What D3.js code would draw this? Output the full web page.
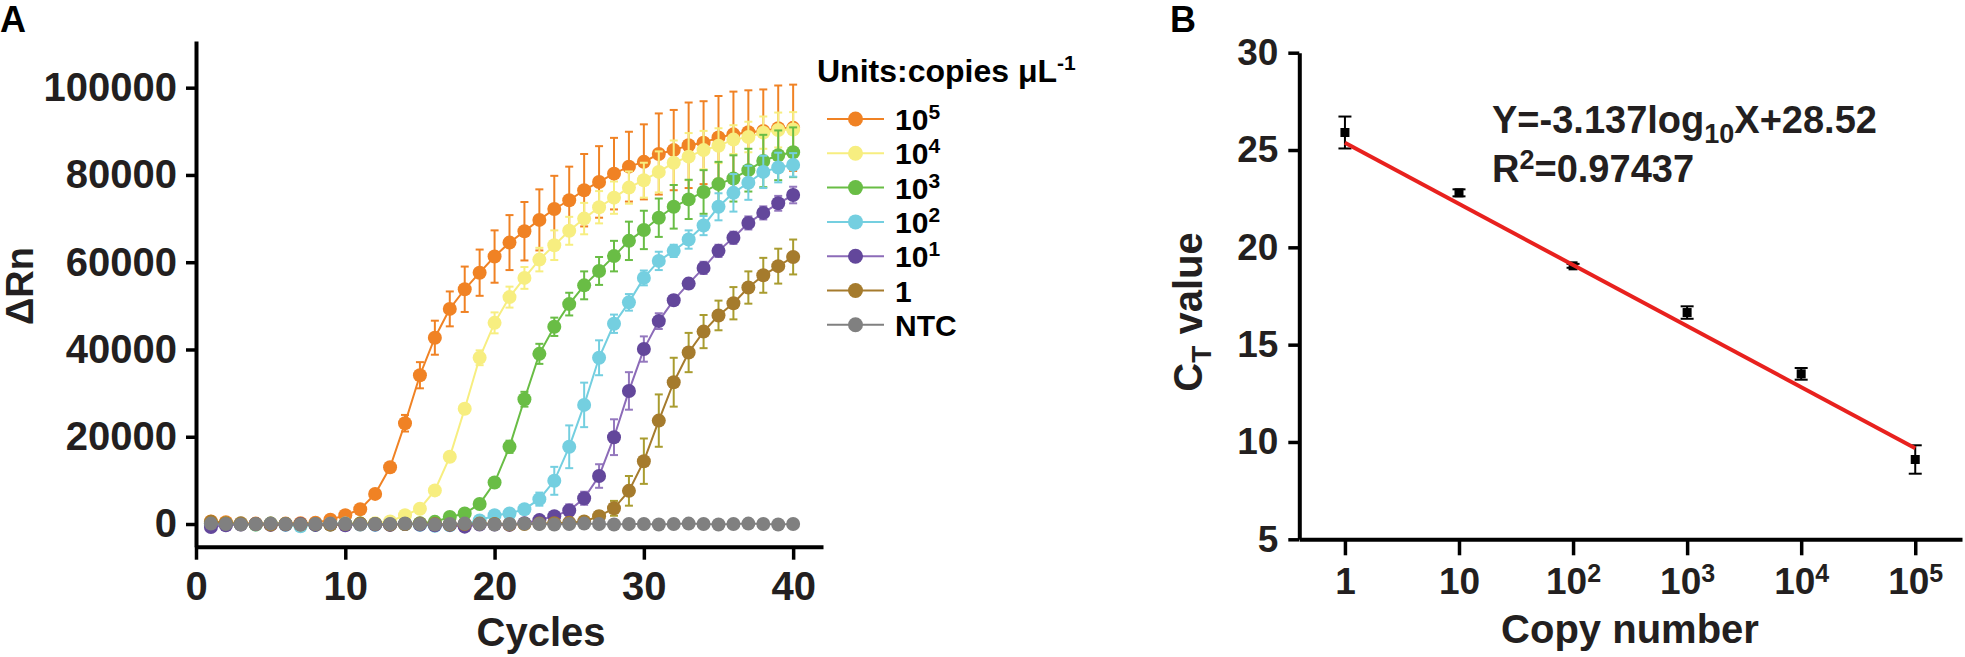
<!DOCTYPE html>
<html>
<head>
<meta charset="utf-8">
<script src="https://cdn.jsdelivr.net/npm/d3@7"></script>
<style>
  body { margin: 0; background: #fff; }
  svg { display: block; font-family: 'Liberation Sans', Arial, Helvetica, sans-serif; font-weight: bold; }
</style>
</head>
<body>
<div id="chart"></div>
<script>
// ---- Panel A: amplification curves ----
const cycles = d3.range(1, 41);
const seriesLabels = ['10^5', '10^4', '10^3', '10^2', '10^1', '1', 'NTC'];
const seriesColors = ['#F08224', '#F7EE80', '#69BD45', '#74CFE0', '#63479B', '#A57B2D', '#808080'];
const lineColors = ['#F08224', '#F7EE80', '#69BD45', '#74CFE0', '#8C6BB8', '#A57B2D', '#808080'];
const errColors = ['#F08224', '#F7EE80', '#69BD45', '#74CFE0', '#9478BE', '#A99C2F', '#808080'];

const rn1e5 = [600, 400, 200, 100, 100, 100, 200, 300, 1000, 2000, 3400, 6900, 13000, 23100, 34100, 42700, 49300, 53800, 57600, 61300,
  64500, 67100, 69700, 72200, 74200, 76500, 78400, 80300, 81900, 83000, 84800, 85700, 86800, 87400, 88600, 89300, 89800, 90100, 90700, 90800];
const err1e5 = [300, 300, 300, 300, 300, 300, 300, 300, 300, 400, 500, 600, 800, 1900, 3000, 3900, 4000, 5200, 5300, 6000,
  6300, 6700, 7000, 7600, 7700, 8300, 8200, 8200, 8000, 8600, 9300, 9200, 9800, 9500, 9500, 9800, 9600, 9500, 9800, 9900];

const rn1e4 = [300, 100, 0, -100, 0, -100, -200, -100, 0, 0, 100, 200, 600, 2000, 3500, 7700, 15400, 26400, 38100, 46100,
  52000, 56400, 60600, 63900, 67200, 70000, 72600, 74800, 77100, 78800, 80700, 82800, 84200, 85700, 86700, 88100, 88700, 89700, 90300, 90400];
const err1e4 = [300, 300, 300, 300, 300, 300, 300, 300, 300, 300, 300, 300, 300, 500, 600, 700, 800, 1000, 1700, 2400,
  2400, 2500, 2700, 3400, 3200, 3600, 3700, 3700, 3700, 4000, 4700, 5100, 5400, 4400, 4000, 3300, 3500, 3700, 4000, 4000];

const rn1e3 = [200, 100, 0, -100, 100, 0, -100, -200, -100, 0, 100, 0, -100, 0, 200, 500, 1600, 2400, 4600, 9500,
  17700, 28600, 39000, 45200, 50400, 54700, 58000, 61400, 64900, 67400, 70200, 72700, 74400, 76100, 77900, 79200, 81100, 83200, 84500, 85200];
const err1e3 = [300, 300, 300, 300, 300, 300, 300, 300, 300, 300, 300, 300, 300, 300, 300, 300, 400, 500, 600, 900,
  1400, 1700, 2300, 2100, 2600, 3200, 3200, 3500, 4400, 4400, 4400, 5000, 4500, 5000, 5100, 5300, 4900, 6000, 5700, 5700];

const rn1e2 = [-300, 0, 100, -100, 0, -200, -500, -100, 0, 100, -100, -200, -100, 0, -200, -400, -300, 0, 800, 2000,
  2400, 3400, 5700, 9900, 17700, 27300, 38100, 45900, 50800, 56400, 60300, 62600, 65200, 68400, 72700, 75900, 78200, 80700, 81700, 82300];
const err1e2 = [300, 300, 300, 300, 300, 300, 300, 300, 300, 300, 300, 300, 300, 300, 300, 300, 300, 300, 500, 600,
  700, 900, 1500, 3200, 4900, 5100, 4000, 2100, 1900, 1700, 2100, 1400, 2100, 2200, 3100, 4300, 3900, 3700, 3400, 2700];

const rn1e1 = [-700, -300, -100, 0, -200, -100, 0, -200, -100, -300, 0, -100, -200, 0, -100, -300, -200, -600, -100, -100,
  -200, 200, 900, 1800, 3100, 5900, 11000, 19900, 30500, 40100, 46500, 51300, 55100, 58700, 62600, 65600, 69000, 71300, 73500, 75400];
const err1e1 = [300, 300, 300, 300, 300, 300, 300, 300, 300, 300, 300, 300, 300, 300, 300, 300, 300, 300, 300, 300,
  300, 300, 500, 700, 1400, 1500, 2700, 4100, 4300, 2900, 1800, 1100, 1100, 1400, 1400, 1400, 1500, 1500, 1700, 1900];

const rn1e0 = [500, 200, 100, 0, -100, 0, -100, 0, -100, 0, 100, 0, -100, 0, 100, 0, -100, 0, 100, 0,
  -100, 0, 100, 200, 300, 600, 1800, 3600, 7600, 14400, 23700, 32500, 39300, 44100, 47800, 50600, 54200, 57000, 59100, 61200];
const err1e0 = [300, 300, 300, 300, 300, 300, 300, 300, 300, 300, 300, 300, 300, 300, 300, 300, 300, 300, 300, 300,
  300, 300, 300, 300, 300, 300, 1100, 1700, 3400, 5200, 6000, 5600, 4500, 3800, 3400, 3700, 3700, 4000, 4000, 4000];

const rnNtc = [100, 0, -100, 0, 100, 0, -100, 0, 100, 0, -100, 0, 0, 100, 0, -100, 0, 100, 0, -100,
  0, 100, 0, -100, 0, 100, 0, -100, 0, 0, -100, 0, 100, 0, -100, 0, 100, 0, -100, 0];
const errNtc = [200, 200, 200, 200, 200, 200, 200, 200, 200, 200, 200, 200, 200, 200, 200, 200, 200, 200, 200, 200,
  200, 200, 200, 200, 200, 200, 200, 200, 200, 200, 200, 200, 200, 200, 200, 200, 200, 200, 200, 200];

const seriesValues = [rn1e5, rn1e4, rn1e3, rn1e2, rn1e1, rn1e0, rnNtc];
const seriesErrors = [err1e5, err1e4, err1e3, err1e2, err1e1, err1e0, errNtc];
const yTicksA = [0, 20000, 40000, 60000, 80000, 100000];
const xTicksA = [0, 10, 20, 30, 40];

// ---- Panel B: standard curve ----
const copyNumbers = [1, 10, 100, 1000, 10000, 100000];
const ctMeans = [25.9, 22.8, 19.05, 16.65, 13.5, 9.1];
const ctErrors = [0.82, 0.18, 0.1, 0.32, 0.3, 0.73];
const fitX = [1, 100000];
const fitY = [25.37, 9.68];
const yTicksB = [5, 10, 15, 20, 25, 30];

const W = 1965, H = 657;
const ink = '#231F20';

const svg = d3.select('#chart')
  .append('svg')
  .attr('width', W)
  .attr('height', H);

svg.append('rect').attr('width', W).attr('height', H).attr('fill', '#fff');

function styleAxis(g, fontSize) {
  g.select('.domain').attr('stroke', '#000').attr('stroke-width', 4);
  g.selectAll('.tick line').attr('stroke', '#000').attr('stroke-width', 3.5);
  g.selectAll('.tick text').attr('fill', ink).attr('font-size', fontSize)
    .attr('font-family', "'Liberation Sans', Arial, sans-serif").attr('font-weight', 'bold');
}

// Panel A scales
const xA = d3.scaleLinear().domain([0, 42]).range([196, 823]);
const yA = d3.scaleLinear().domain([-5200, 110700]).range([546.7, 41]);

const xAxisA = d3.axisBottom(xA).tickValues(xTicksA).tickSize(13).tickPadding(12).tickSizeOuter(0);
const yAxisA = d3.axisLeft(yA).tickValues(yTicksA).tickSize(10).tickPadding(9).tickSizeOuter(0)
  .tickFormat(d3.format('d'));

const gxA = svg.append('g').attr('transform', 'translate(0,546.7)').call(xAxisA);
styleAxis(gxA, 40);
const gyA = svg.append('g').attr('transform', 'translate(196,0)').call(yAxisA);
styleAxis(gyA, 40);

// series
const lineGen = d3.line().x((d, i) => xA(cycles[i])).y(d => yA(d));

seriesValues.forEach((vals, s) => {
  const g = svg.append('g').attr('class', 'series');
  const errs = seriesErrors[s];
  // error bars
  const eb = g.selectAll('.eb').data(vals).enter().append('g');
  eb.append('line')
    .attr('x1', (d, i) => xA(cycles[i])).attr('x2', (d, i) => xA(cycles[i]))
    .attr('y1', (d, i) => yA(d - errs[i])).attr('y2', (d, i) => yA(d + errs[i]))
    .attr('stroke', errColors[s]).attr('stroke-width', 2);
  [1, -1].forEach(sign => {
    eb.append('line')
      .attr('x1', (d, i) => xA(cycles[i]) - 4).attr('x2', (d, i) => xA(cycles[i]) + 4)
      .attr('y1', (d, i) => yA(d + sign * errs[i])).attr('y2', (d, i) => yA(d + sign * errs[i]))
      .attr('stroke', errColors[s]).attr('stroke-width', 2);
  });
  g.append('path').datum(vals)
    .attr('d', lineGen)
    .attr('fill', 'none').attr('stroke', lineColors[s]).attr('stroke-width', 2);
  g.selectAll('circle').data(vals).enter().append('circle')
    .attr('cx', (d, i) => xA(cycles[i]))
    .attr('cy', d => yA(d))
    .attr('r', 7)
    .attr('fill', seriesColors[s]);
});

// axis titles A
svg.append('text').attr('x', 0).attr('y', 32).attr('font-size', 36).attr('fill', '#000').text('A');
svg.append('text').attr('x', 541).attr('y', 646).attr('text-anchor', 'middle')
  .attr('font-size', 40).attr('fill', ink).text('Cycles');
svg.append('text').attr('transform', 'translate(33,286) rotate(-90)').attr('text-anchor', 'middle')
  .attr('font-size', 38).attr('fill', ink).text('\u0394Rn');

// legend
const legend = svg.append('g');
const legTitle = legend.append('text').attr('x', 817).attr('y', 82).attr('font-size', 32).attr('fill', '#000');
legTitle.append('tspan').text('Units:copies \u03bcL');
legTitle.append('tspan').attr('dy', -12).attr('font-size', 21).text('-1');

seriesLabels.forEach((lab, i) => {
  const y = 119 + i * 34.3;
  legend.append('line').attr('x1', 827).attr('x2', 884).attr('y1', y).attr('y2', y)
    .attr('stroke', lineColors[i]).attr('stroke-width', 2);
  legend.append('circle').attr('cx', 855.5).attr('cy', y).attr('r', 7.5).attr('fill', seriesColors[i]);
  const t = legend.append('text').attr('x', 895).attr('y', y + 11).attr('font-size', 30).attr('fill', '#000');
  const parts = lab.split('^');
  t.append('tspan').text(parts[0]);
  if (parts[1]) t.append('tspan').attr('dy', -11).attr('font-size', 21).text(parts[1]);
});

// Panel B scales
const xB = d3.scaleLog().domain([0.398, 257000]).range([1299.3, 1962]);
const yB = d3.scaleLinear().domain([5, 30]).range([539.3, 52.7]);

const xAxisB = d3.axisBottom(xB).tickValues(copyNumbers).tickSize(16).tickPadding(12).tickSizeOuter(0).tickFormat(() => '');
const yAxisB = d3.axisLeft(yB).tickValues(yTicksB).tickSize(11).tickPadding(10).tickSizeOuter(0);

const gxB = svg.append('g').attr('transform', 'translate(0,539.3)').call(xAxisB);
styleAxis(gxB, 37);
gxB.selectAll('.tick text').each(function (d) {
  const t = d3.select(this);
  const e = Math.round(Math.log10(d));
  if (e === 0) t.text('1');
  else if (e === 1) t.text('10');
  else {
    t.append('tspan').text('10');
    t.append('tspan').attr('dy', -12).attr('font-size', 25).text(e);
  }
});
const gyB = svg.append('g').attr('transform', 'translate(1299.3,0)').call(yAxisB);
styleAxis(gyB, 37);

// error bars + squares
const pb = svg.append('g');
copyNumbers.forEach((c, i) => {
  const x = xB(c);
  pb.append('line').attr('x1', x).attr('x2', x)
    .attr('y1', yB(ctMeans[i] - ctErrors[i])).attr('y2', yB(ctMeans[i] + ctErrors[i]))
    .attr('stroke', '#000').attr('stroke-width', 2);
  [1, -1].forEach(sign => {
    pb.append('line').attr('x1', x - 6.5).attr('x2', x + 6.5)
      .attr('y1', yB(ctMeans[i] + sign * ctErrors[i])).attr('y2', yB(ctMeans[i] + sign * ctErrors[i]))
      .attr('stroke', '#000').attr('stroke-width', 2);
  });
  pb.append('rect').attr('x', x - 4.5).attr('y', yB(ctMeans[i]) - 4.5)
    .attr('width', 9).attr('height', 9).attr('fill', '#000');
});

// fitted line
svg.append('line')
  .attr('x1', xB(fitX[0])).attr('y1', yB(fitY[0]))
  .attr('x2', xB(fitX[1])).attr('y2', yB(fitY[1]))
  .attr('stroke', '#E8211E').attr('stroke-width', 4);

// labels B
svg.append('text').attr('x', 1170).attr('y', 32).attr('font-size', 36).attr('fill', '#000').text('B');
svg.append('text').attr('x', 1630).attr('y', 643).attr('text-anchor', 'middle')
  .attr('font-size', 40).attr('fill', ink).text('Copy number');
const ctLab = svg.append('text').attr('transform', 'translate(1202,312) rotate(-90)')
  .attr('text-anchor', 'middle').attr('font-size', 40).attr('fill', ink);
ctLab.append('tspan').text('C');
ctLab.append('tspan').attr('dy', 9).attr('font-size', 28).text('T');
ctLab.append('tspan').attr('dy', -9).text(' value');

const eq = svg.append('text').attr('x', 1492).attr('y', 133).attr('font-size', 38).attr('fill', ink);
eq.append('tspan').text('Y=-3.137log');
eq.append('tspan').attr('dy', 10).attr('font-size', 27).text('10');
eq.append('tspan').attr('dy', -10).text('X+28.52');

const r2 = svg.append('text').attr('x', 1492).attr('y', 182).attr('font-size', 38).attr('fill', ink);
r2.append('tspan').text('R');
r2.append('tspan').attr('dy', -13).attr('font-size', 27).text('2');
r2.append('tspan').attr('dy', 13).text('=0.97437');
</script>
</body>
</html>
